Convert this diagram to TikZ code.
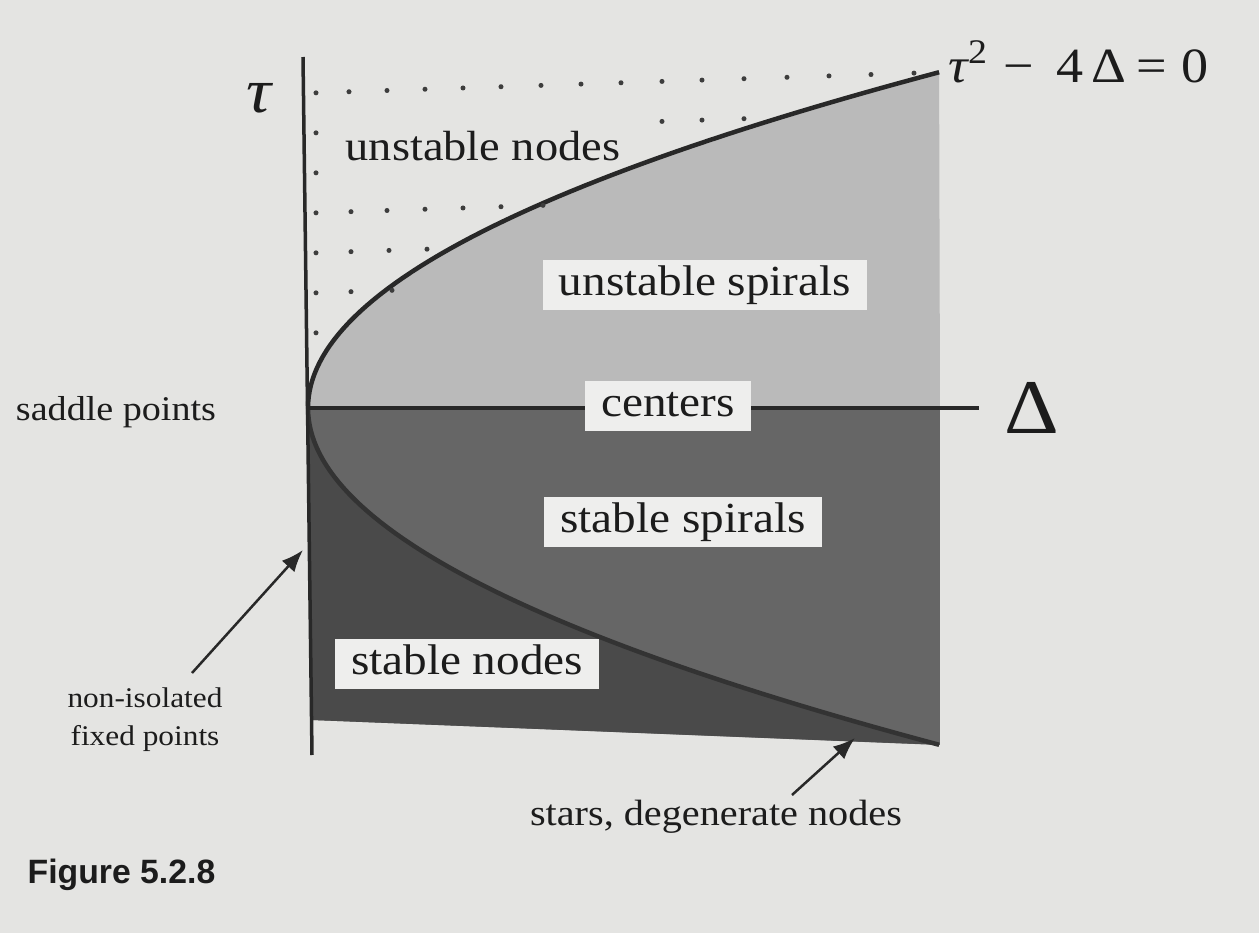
\documentclass[tikz,border=0pt]{standalone}
\usepackage{fontspec}
\setmainfont{Liberation Serif}[FakeStretch=1.1]
\newfontfamily\figfont{Liberation Sans}
\usetikzlibrary{arrows.meta}
\definecolor{page}{RGB}{228,228,226}
\definecolor{uspiral}{RGB}{186,186,186}
\definecolor{sspiral}{RGB}{102,102,102}
\definecolor{snode}{RGB}{74,74,74}
\definecolor{boxc}{RGB}{238,238,237}
\definecolor{ink}{RGB}{40,40,40}
\definecolor{txtc}{RGB}{28,28,28}
\tikzset{
  axisline/.style={draw=ink, line width=0.035cm},
  curveline/.style={draw=ink, line width=0.045cm},
  dotmark/.style={fill=ink!90},
  lbl/.style={fill=boxc, text=txtc, inner xsep=0.16cm, inner ysep=0.05cm,
    text height=8.6pt, text depth=2.8pt, font=\fontsize{12.2}{14}\selectfont},
  txt/.style={text=txtc, inner sep=0pt, anchor=base},
  arr/.style={draw=ink, line width=0.025cm, -{Latex[length=0.22cm,width=0.17cm]}}
}
\begin{document}
\begin{tikzpicture}[x=0.01cm,y=-0.01cm]
\fill[page] (0,0) rectangle (1259,933);
\useasboundingbox (0,0) rectangle (1259,933);

\coordinate (O) at (308,408);
\coordinate (Tend) at (940,72);
\coordinate (Bend) at (940,745);
\coordinate (BL) at (312,720);
\coordinate (AxR) at (940,408);

% regions
\fill[uspiral] (O) -- plot[domain=0:1,samples=60] ({308+632*\x*\x},{408-336*\x}) -- (AxR) -- cycle;
\fill[sspiral] (O) -- (AxR) -- (Bend) -- (BL) -- cycle;
\fill[snode] (O) -- plot[domain=0:1,samples=60] ({308+632*\x*\x},{408+337*\x}) -- (BL) -- cycle;

% parabola
\draw[curveline] plot[domain=0:1,samples=60] ({308+632*\x*\x},{408-336*\x});
\draw[curveline, draw=black!80] plot[domain=0:1,samples=60] ({308+632*\x*\x},{408+337*\x});

% axes
\coordinate (TauTop) at (303,57);
\coordinate (TauBot) at (312,755);
\coordinate (DelEnd) at (979,408);
\draw[axisline] (TauTop) -- (TauBot);
\draw[axisline] (O) -- (DelEnd);

% dots (unstable nodes)
\foreach \xx in {316,349,387,425,463,501,541,581,621,662,702,744,787,829,871,914}
  \fill[dotmark] (\xx,{93-(\xx-311)*0.033}) circle[radius=0.025cm];
\foreach \xx in {316,662,702,744}
  \fill[dotmark] (\xx,{133-(\xx-311)*0.033}) circle[radius=0.025cm];
\foreach \xx in {316}
  \fill[dotmark] (\xx,{173-(\xx-311)*0.033}) circle[radius=0.025cm];
\foreach \xx in {316,351,387,425,463,501,543}
  \fill[dotmark] (\xx,{213-(\xx-311)*0.033}) circle[radius=0.025cm];
\foreach \xx in {316,351,389,427}
  \fill[dotmark] (\xx,{253-(\xx-311)*0.033}) circle[radius=0.025cm];
\foreach \xx in {316,351,392}
  \fill[dotmark] (\xx,{293-(\xx-311)*0.033}) circle[radius=0.025cm];
\foreach \xx in {316}
  \fill[dotmark] (\xx,{333-(\xx-311)*0.033}) circle[radius=0.025cm];

% region labels
\node[txt, font=\fontsize{12}{14}\selectfont] (un) at (483,160) {unstable nodes};
\node[lbl] (us) at (705,285) {unstable spirals};
\node[lbl] (ce) at (668,406) {centers};
\node[lbl] (ss) at (683,522) {stable spirals};
\node[lbl] (sn) at (467,664) {stable nodes};

% axis labels
\node[txt, font=\fontsize{18}{20}\selectfont\itshape] (tau) at (259,112) {τ};
\node[txt, font=\fontsize{22}{24}\selectfont] (del) at (1032,433) {Δ};
\node[txt, anchor=base west, font=\fontsize{14}{16}\selectfont] (eq) at (948,82)
  {{\itshape τ}\textsuperscript{2}\hspace{0.3em}−\hspace{0.45em}4\,Δ\hspace{0.2em}=\hspace{0.3em}0};

% side labels
\node[txt, font=\fontsize{9.85}{12}\selectfont] (sad) at (116,420) {saddle points};
\node[txt, align=center, font=\fontsize{8.1}{10.8}\selectfont] (nif) at (145,745) {non-isolated\\fixed points};
\node[txt, font=\fontsize{10.4}{12}\selectfont] (star) at (716,825) {stars, degenerate nodes};
\node[txt, anchor=base west, font=\figfont\bfseries\fontsize{9.6}{11}\selectfont] (fig) at (27,883) {Figure 5.2.8};

% arrows
\coordinate (nitail) at (192,673);
\coordinate (nitip) at (303,550);
\coordinate (sttail) at (792,795);
\coordinate (sttip) at (855,738);
\draw[arr] (nitail) -- (nitip);
\draw[arr] (sttail) -- (sttip);
\end{tikzpicture}
\end{document}
